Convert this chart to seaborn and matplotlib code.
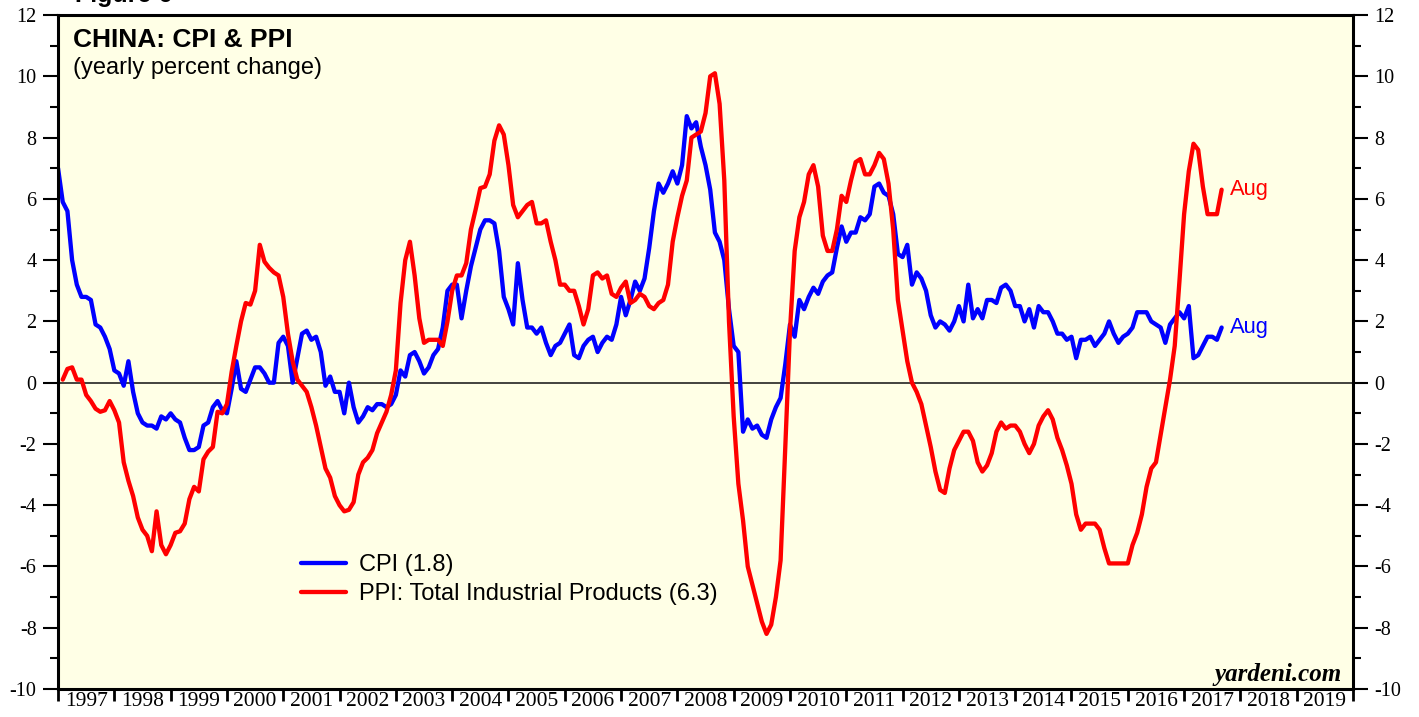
import numpy as np
import pandas as pd
import matplotlib
matplotlib.use("Agg")
import matplotlib.pyplot as plt
import seaborn as sns

# China CPI, yearly % change, monthly Dec 1996 .. Aug 2017
cpi = [
    7.0,
    5.9, 5.6, 4.0, 3.2, 2.8, 2.8, 2.7, 1.9, 1.8, 1.5, 1.1, 0.4,          # 1997
    0.3, -0.1, 0.7, -0.3, -1.0, -1.3, -1.4, -1.4, -1.5, -1.1, -1.2, -1.0,  # 1998
    -1.2, -1.3, -1.8, -2.2, -2.2, -2.1, -1.4, -1.3, -0.8, -0.6, -0.9, -1.0,  # 1999
    -0.2, 0.7, -0.2, -0.3, 0.1, 0.5, 0.5, 0.3, 0.0, 0.0, 1.3, 1.5,       # 2000
    1.2, 0.0, 0.8, 1.6, 1.7, 1.4, 1.5, 1.0, -0.1, 0.2, -0.3, -0.3,       # 2001
    -1.0, 0.0, -0.8, -1.3, -1.1, -0.8, -0.9, -0.7, -0.7, -0.8, -0.7, -0.4,  # 2002
    0.4, 0.2, 0.9, 1.0, 0.7, 0.3, 0.5, 0.9, 1.1, 1.8, 3.0, 3.2,          # 2003
    3.2, 2.1, 3.0, 3.8, 4.4, 5.0, 5.3, 5.3, 5.2, 4.3, 2.8, 2.4,          # 2004
    1.9, 3.9, 2.7, 1.8, 1.8, 1.6, 1.8, 1.3, 0.9, 1.2, 1.3, 1.6,          # 2005
    1.9, 0.9, 0.8, 1.2, 1.4, 1.5, 1.0, 1.3, 1.5, 1.4, 1.9, 2.8,          # 2006
    2.2, 2.7, 3.3, 3.0, 3.4, 4.4, 5.6, 6.5, 6.2, 6.5, 6.9, 6.5,          # 2007
    7.1, 8.7, 8.3, 8.5, 7.7, 7.1, 6.3, 4.9, 4.6, 4.0, 2.4, 1.2,          # 2008
    1.0, -1.6, -1.2, -1.5, -1.4, -1.7, -1.8, -1.2, -0.8, -0.5, 0.6, 1.9,  # 2009
    1.5, 2.7, 2.4, 2.8, 3.1, 2.9, 3.3, 3.5, 3.6, 4.4, 5.1, 4.6,          # 2010
    4.9, 4.9, 5.4, 5.3, 5.5, 6.4, 6.5, 6.2, 6.1, 5.5, 4.2, 4.1,          # 2011
    4.5, 3.2, 3.6, 3.4, 3.0, 2.2, 1.8, 2.0, 1.9, 1.7, 2.0, 2.5,          # 2012
    2.0, 3.2, 2.1, 2.4, 2.1, 2.7, 2.7, 2.6, 3.1, 3.2, 3.0, 2.5,          # 2013
    2.5, 2.0, 2.4, 1.8, 2.5, 2.3, 2.3, 2.0, 1.6, 1.6, 1.4, 1.5,          # 2014
    0.8, 1.4, 1.4, 1.5, 1.2, 1.4, 1.6, 2.0, 1.6, 1.3, 1.5, 1.6,          # 2015
    1.8, 2.3, 2.3, 2.3, 2.0, 1.9, 1.8, 1.3, 1.9, 2.1, 2.3, 2.1,          # 2016
    2.5, 0.8, 0.9, 1.2, 1.5, 1.5, 1.4, 1.8,                              # 2017
]

# China PPI total industrial products, yearly % change, Jan 1997 .. Aug 2017
ppi = [
    0.1, 0.45, 0.5, 0.1, 0.1, -0.4, -0.6, -0.85, -0.95, -0.9, -0.6, -0.9,  # 1997
    -1.3, -2.6, -3.2, -3.7, -4.4, -4.8, -5.0, -5.5, -4.2, -5.3, -5.6, -5.3,  # 1998
    -4.9, -4.85, -4.6, -3.8, -3.4, -3.55, -2.5, -2.25, -2.1, -0.95, -1.0, -0.7,  # 1999
    0.35, 1.2, 2.0, 2.6, 2.55, 3.0, 4.5, 3.95, 3.75, 3.6, 3.5, 2.8,      # 2000
    1.6, 0.7, 0.1, -0.1, -0.3, -0.8, -1.4, -2.1, -2.8, -3.1, -3.7, -4.0,  # 2001
    -4.2, -4.15, -3.9, -3.0, -2.6, -2.45, -2.2, -1.65, -1.3, -0.95, -0.4, 0.4,  # 2002
    2.6, 4.0, 4.6, 3.5, 2.1, 1.3, 1.4, 1.4, 1.4, 1.2, 2.0, 3.0,          # 2003
    3.5, 3.5, 3.9, 5.0, 5.65, 6.35, 6.4, 6.8, 7.9, 8.4, 8.1, 7.1,        # 2004
    5.8, 5.4, 5.6, 5.8, 5.9, 5.2, 5.2, 5.3, 4.6, 4.0, 3.2, 3.2,          # 2005
    3.0, 3.0, 2.5, 1.9, 2.4, 3.5, 3.6, 3.4, 3.5, 2.9, 2.8, 3.1,          # 2006
    3.3, 2.6, 2.7, 2.9, 2.8, 2.5, 2.4, 2.6, 2.7, 3.2, 4.6, 5.4,          # 2007
    6.1, 6.6, 8.0, 8.1, 8.2, 8.8, 10.0, 10.1, 9.1, 6.6, 2.0, -1.1,       # 2008
    -3.3, -4.5, -6.0, -6.6, -7.2, -7.8, -8.2, -7.9, -7.0, -5.8, -2.1, 1.7,  # 2009
    4.3, 5.4, 5.9, 6.8, 7.1, 6.4, 4.8, 4.3, 4.3, 5.0, 6.1, 5.9,          # 2010
    6.6, 7.2, 7.3, 6.8, 6.8, 7.1, 7.5, 7.3, 6.5, 5.0, 2.7, 1.7,          # 2011
    0.7, 0.0, -0.3, -0.7, -1.4, -2.1, -2.9, -3.5, -3.6, -2.8, -2.2, -1.9,  # 2012
    -1.6, -1.6, -1.9, -2.6, -2.9, -2.7, -2.3, -1.6, -1.3, -1.5, -1.4, -1.4,  # 2013
    -1.6, -2.0, -2.3, -2.0, -1.4, -1.1, -0.9, -1.2, -1.8, -2.2, -2.7, -3.3,  # 2014
    -4.3, -4.8, -4.6, -4.6, -4.6, -4.8, -5.4, -5.9, -5.9, -5.9, -5.9, -5.9,  # 2015
    -5.3, -4.9, -4.3, -3.4, -2.8, -2.6, -1.7, -0.8, 0.1, 1.2, 3.3, 5.5,  # 2016
    6.9, 7.8, 7.6, 6.4, 5.5, 5.5, 5.5, 6.3,                              # 2017
]

year_labels = [str(y) for y in range(1997, 2020)]
cpi_label = "CPI (1.8)"
ppi_label = "PPI: Total Industrial Products (6.3)"


def month_end_years(start, n):
    d = pd.date_range(start, periods=n, freq="ME")
    return d.year + d.month / 12.0


cpi_df = pd.DataFrame({"x": month_end_years("1996-12-31", len(cpi)), "value": cpi})
ppi_df = pd.DataFrame({"x": month_end_years("1997-01-31", len(ppi)), "value": ppi})

sns.set_style("ticks")
plt.rcParams["font.family"] = ["Liberation Serif", "DejaVu Serif"]
plt.rcParams["axes.unicode_minus"] = False
plt.rcParams["text.color"] = "black"
plt.rcParams["xtick.color"] = "black"
plt.rcParams["ytick.color"] = "black"
sans = ["Liberation Sans", "DejaVu Sans"]

fig, ax = plt.subplots(figsize=(14.19, 7.17), dpi=100)
fig.subplots_adjust(left=0.0409, right=0.9535, top=0.979, bottom=0.039)
ax.set_facecolor("#FFFFE6")

ax.axhline(0, color="#222222", lw=1.2, zorder=1)
sns.lineplot(data=cpi_df, x="x", y="value", color="#0000FF", lw=3.1, ax=ax, label=cpi_label)
sns.lineplot(data=ppi_df, x="x", y="value", color="#FF0000", lw=3.1, ax=ax, label=ppi_label)

ax.set_xlim(1997, 2020)
ax.set_ylim(-10, 12)
ax.set_xlabel("")
ax.set_ylabel("")

# x axis: ticks at year boundaries, labels centred in each year
ax.set_xticks(range(1997, 2021))
ax.set_xticklabels([])
ax.set_xticks(np.arange(1997.5, 2020, 1.0), minor=True)
ax.set_xticklabels(year_labels, minor=True, fontsize=15.5)
ax.tick_params(axis="x", which="major", length=8.5, width=2, direction="out")
ax.tick_params(axis="x", which="minor", length=0, pad=2)

ax.set_yticks(range(-10, 13, 2))
ax.set_yticks(range(-9, 12, 2), minor=True)
ax.tick_params(axis="y", which="both", left=True, right=True,
               labelleft=True, labelright=True, direction="out", width=1.5)
ax.tick_params(axis="y", which="major", length=10.5, labelsize=14.5, pad=5)
ax.tick_params(axis="y", which="minor", length=5.5)
ax.tick_params(which="both", colors="black", labelcolor="black")

for s in ax.spines.values():
    s.set_visible(True)
    s.set_linewidth(2.2)
    s.set_color("black")

ax.text(0.0116, 0.981, "CHINA: CPI & PPI", transform=ax.transAxes, color="black",
        fontsize=19, fontweight="bold", va="top", family=sans)
ax.text(0.0116, 0.938, "(yearly percent change)", transform=ax.transAxes, color="black",
        fontsize=17, va="top", family=sans)

ax.text(2017.82, cpi[-1], "Aug", color="#0000FF", fontsize=15.8, va="center", family=sans)
ax.text(2017.82, ppi[-1], "Aug", color="#FF0000", fontsize=15.8, va="center", family=sans)

ax.text(0.9915, 0.012, "yardeni.com", transform=ax.transAxes, ha="right", va="baseline",
        fontsize=18, style="italic", fontweight="bold", color="black")

fig.text(75 / 1419, 1 - 2 / 717, "Figure 6", fontsize=18, fontweight="bold",
         va="baseline", family=sans, color="black")

leg = ax.legend(loc="upper left", bbox_to_anchor=(0.188, 0.2), frameon=False,
                prop={"family": sans, "size": 17}, handlelength=1.9, handletextpad=0.55,
                labelspacing=0.3, borderpad=0, borderaxespad=0)
for t in leg.get_texts():
    t.set_color("black")

fig.savefig("out.png", dpi=100)
